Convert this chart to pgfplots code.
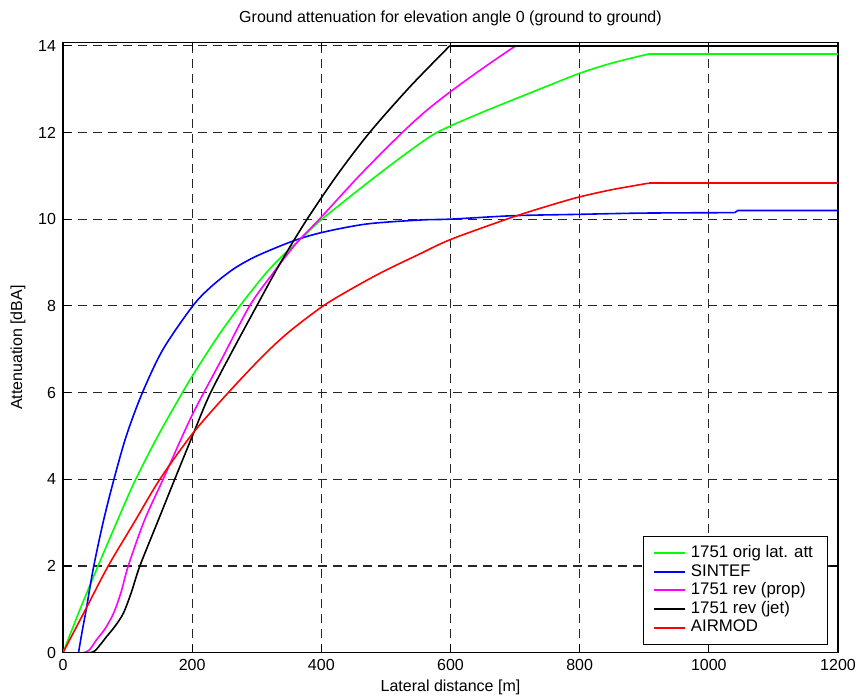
\documentclass[border=0pt]{standalone}
\usepackage{fontspec}
\setmainfont{Liberation Sans}
\usepackage{pgfplots}
\pgfplotsset{compat=1.18}
\definecolor{mgreen}{rgb}{0,1,0}
\definecolor{mblue}{rgb}{0,0,1}
\definecolor{mmag}{rgb}{1,0,1}
\definecolor{mred}{rgb}{1,0,0}
\begin{document}
\begin{tikzpicture}
\begin{axis}[
 width=387.5pt, height=305pt, scale only axis,
 xmin=0, xmax=1200, ymin=0, ymax=14.07,
 xtick={0,200,...,1200}, ytick={0,2,...,14},
 grid=major,
 grid style={black!85, dash pattern=on 4.5pt off 3pt, line width=0.55pt},
 axis line style={black, line width=0.6pt},
 tick align=inside, tick pos=both, major tick length=4pt,
 tick style={black, line width=0.6pt},
 ticklabel style={font=\fontsize{8}{9}\selectfont},
 /pgf/number format/assume math mode=true,
 /pgf/number format/1000 sep={},
 title={Ground attenuation for elevation angle 0 (ground to ground)},
 title style={font=\fontsize{8}{9}\selectfont, at={(axis description cs:0.5,1)}, anchor=center, yshift=6pt},
 xlabel={Lateral distance [m]},
 ylabel={Attenuation [dBA]},
 xlabel style={font=\fontsize{8}{9}\selectfont, at={(axis description cs:0.5,-0.0574)}, anchor=center},
 ylabel style={font=\fontsize{8}{9}\selectfont, at={(axis description cs:-0.0581,0.5)}, anchor=center},
 legend style={at={(axis description cs:0.987,0.013)}, anchor=south east, draw=black, line width=0.6pt, fill=white,
   font=\fontsize{8.4}{9}\selectfont, legend cell align=left, inner xsep=5pt, inner ysep=2.6pt, row sep=-2.2pt,
   nodes={inner xsep=2.2pt}},
 legend image code/.code={\draw[#1, line width=1pt] (1pt,0pt) -- (16.5pt,0pt);},
 every axis plot/.append style={line width=0.8pt, no markers},
]
\addplot[mgreen, smooth, tension=0.5] coordinates {(0,0)(25,0.95)(50,1.85)(80,2.9)(111,3.95)(147,5.0)(183,5.95)(201,6.4)(240,7.3)(274,8.0)(310,8.68)(336,9.1)(370,9.57)(401,10)(476,10.89)(530,11.5)(571,11.93)(600,12.15)(650,12.47)(693,12.73)(750,13.07)(801,13.37)(850,13.6)(907,13.81)};
\addlegendentry{1751 orig lat. att}
\addplot[mblue, smooth, tension=0.5] coordinates {(24,0)(30,0.52)(36,1.0)(47,1.95)(62,3.0)(78,3.95)(98,5.0)(123,6.0)(155,7.0)(201,8.0)(230,8.45)(264,8.85)(300,9.15)(357,9.5)(403,9.7)(471,9.89)(553,9.98)(600,10.0)(698,10.08)(796,10.11)(900,10.14)(1040,10.15)};
\addlegendentry{SINTEF}
\addplot[mmag, smooth, tension=0.5] coordinates {(30,0)(40,0.05)(52,0.3)(65,0.55)(78,0.9)(90,1.4)(101,2)(126,3.05)(155,4)(199,5.45)(245,6.75)(289,8)(325,8.75)(360,9.42)(397,10)(460,11.02)(522,11.95)(560,12.47)(599,12.93)(650,13.48)(701,14)};
\addlegendentry{1751 rev (prop)}
\addplot[black, smooth, tension=0.5] coordinates {(40,0)(50,0.05)(68,0.38)(80,0.6)(93.5,0.91)(106,1.4)(119,2)(146,3)(173,4)(201.5,5.04)(227,5.95)(263,6.98)(300,8)(337,9)(378,10)(427,11.07)(476,12.02)(537,13.05)(599,14)};
\addlegendentry{1751 rev (jet)}
\addplot[mred, smooth, tension=0.5] coordinates {(0,0)(35,1)(70,2)(110,3)(150,4)(201,5.06)(256,6)(310,6.85)(350,7.4)(403,8)(450,8.42)(497,8.8)(550,9.18)(600,9.53)(693,10.03)(750,10.3)(799,10.51)(850,10.68)(907,10.83)};
\addlegendentry{AIRMOD}
\addplot[mgreen, forget plot] coordinates {(907,13.81)(1200,13.81)};
\addplot[mblue, forget plot] coordinates {(0,0)(24,0)};
\addplot[mblue, forget plot] coordinates {(1040,10.15)(1045,10.2)(1200,10.2)};
\addplot[mmag, forget plot] coordinates {(0,0)(30,0)};
\addplot[mmag, forget plot] coordinates {(701,14)(1200,14)};
\addplot[black, forget plot] coordinates {(0,0)(40,0)};
\addplot[black, forget plot] coordinates {(599,14)(1200,14)};
\addplot[mred, forget plot] coordinates {(907,10.83)(1200,10.83)};
\coordinate (a) at (rel axis cs:0,0);
\coordinate (b) at (rel axis cs:1,1);
\end{axis}
\pgfresetboundingbox
\path (a) ++(-31.5pt,-21.5pt) rectangle ([shift={(9.5pt,21.35pt)}]b);
\end{tikzpicture}
\end{document}
